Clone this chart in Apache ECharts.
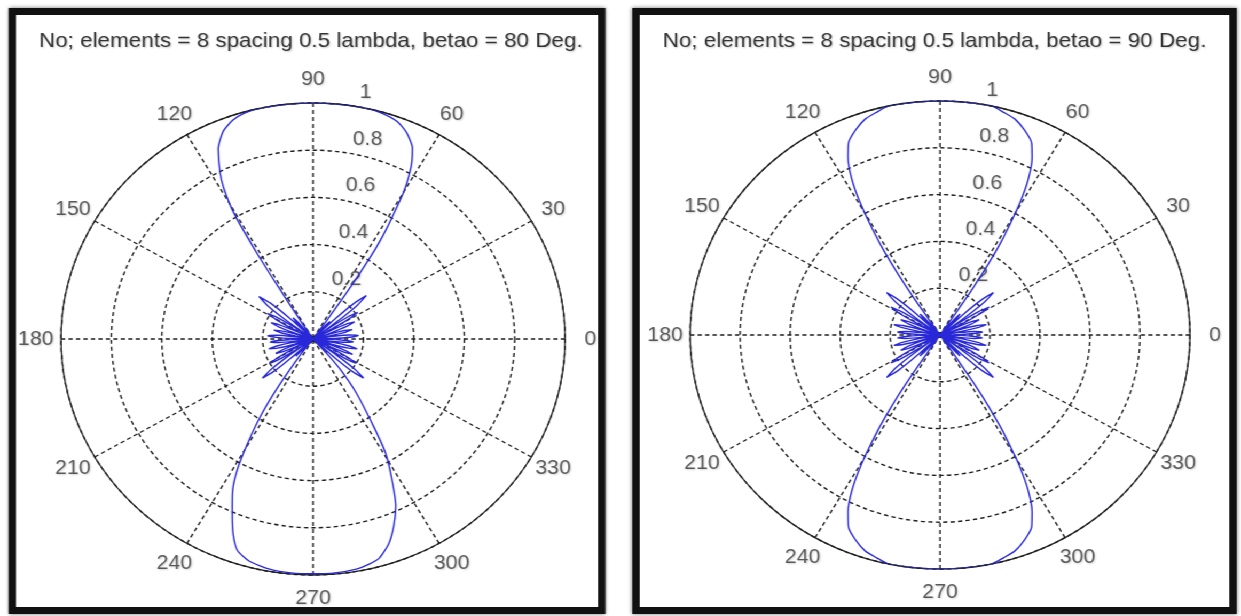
<!DOCTYPE html>
<html>
<head>
<meta charset="utf-8">
<script src="https://cdn.jsdelivr.net/npm/echarts@6.0.0/dist/echarts.min.js"></script>
<style>
  html, body { margin: 0; padding: 0; background: #fff; overflow: hidden; }
  #wrap { position: absolute; left: 0; top: 0; width: 1162px; height: 616px; transform: scaleX(1.068); transform-origin: 0 0; }
  .box { position: absolute; box-sizing: border-box; border: 7px solid #111; background: #fff; box-shadow: 0 0 4px rgba(0,0,0,0.55); }
  .chart { position: absolute; top: 0; height: 616px; }
</style>
</head>
<body>
<div id="wrap">
  <div class="box" style="left:7.5px; top:8px; width:559px; height:606px;"></div>
  <div class="box" style="left:591.8px; top:8px; width:566.4px; height:606px;"></div>
  <div id="c1" class="chart" style="left:0px; width:582.4px;"></div>
  <div id="c2" class="chart" style="left:588px; width:574px;"></div>
</div>
<script>
// ---- data ----
const titles = [
  'No; elements = 8 spacing 0.5 lambda, betao = 80 Deg.',
  'No; elements = 8 spacing 0.5 lambda, betao = 90 Deg.'
];
const angleTicks = [0, 30, 60, 90, 120, 150, 180, 210, 240, 270, 300, 330];
const radiusTicks = [0.2, 0.4, 0.6, 0.8, 1];
const radiusTickText = ['0.2', '0.4', '0.6', '0.8', '1'];

// [angle in degrees, normalised amplitude]  -- betao = 80 deg
const pattern80 = [
  [0,0],
  [1.43,0.081],[2.85,0.146],[4.75,0.18],[6.65,0.146],[8.08,0.081],[9.5,0],
  [10.93,0.072],[12.35,0.13],[14.25,0.16],[16.15,0.13],[17.58,0.072],[19,0],
  [20.43,0.081],[21.85,0.146],[23.75,0.18],[25.65,0.146],[27.08,0.081],[28.5,0],
  [29.7,0.095],[30.9,0.17],[32.5,0.21],[34.1,0.17],[35.3,0.095],[36.5,0],
  [37.85,0.126],[39.2,0.227],[41,0.28],[42.8,0.227],[44.15,0.126],[45.5,0],
  [46.25,0.045],[47,0.081],[48,0.1],[49,0.081],[49.75,0.045],[50.5,0],
  [51.1,0.014],[51.7,0.024],[52.5,0.03],[53.3,0.024],[53.9,0.014],[54.5,0],
  [55.5,0.15],[56,0.28],[57,0.45],[58,0.55],[59,0.63],[60,0.72],[62,0.83],[64,0.9],
  [67,0.95],[70,0.98],[74,0.995],[78,1],[84,1],[90,1],[96,1],[102,1],[106,0.995],
  [109,0.98],[112,0.95],[115,0.89],[117.5,0.8],[119,0.73],[120.5,0.62],[121.5,0.42],
  [122,0.25],[122.7,0.1],[123.5,0],
  [124.18,0.014],[124.85,0.024],[125.75,0.03],[126.65,0.024],[127.33,0.014],[128,0],
  [129.05,0.054],[130.1,0.097],[131.5,0.12],[132.9,0.097],[133.95,0.054],[135,0],
  [136.5,0.126],[138,0.227],[140,0.28],[142,0.227],[143.5,0.126],[145,0],
  [146.2,0.095],[147.4,0.17],[149,0.21],[150.6,0.17],[151.8,0.095],[153,0],
  [154.35,0.081],[155.7,0.146],[157.5,0.18],[159.3,0.146],[160.65,0.081],[162,0],
  [163.35,0.072],[164.7,0.13],[166.5,0.16],[168.3,0.13],[169.65,0.072],[171,0],
  [172.35,0.081],[173.7,0.146],[175.5,0.18],[177.3,0.146],[178.65,0.081],[180,0],
  [181.35,0.077],[182.7,0.138],[184.5,0.17],[186.3,0.138],[187.65,0.077],[189,0],
  [190.35,0.081],[191.7,0.146],[193.5,0.18],[195.3,0.146],[196.65,0.081],[198,0],
  [199.35,0.072],[200.7,0.13],[202.5,0.16],[204.3,0.13],[205.65,0.072],[207,0],
  [208.2,0.09],[209.4,0.162],[211,0.2],[212.6,0.162],[213.8,0.09],[215,0],
  [216.35,0.117],[217.7,0.211],[219.5,0.26],[221.3,0.211],[222.65,0.117],[224,0],
  [224.75,0.045],[225.5,0.081],[226.5,0.1],[227.5,0.081],[228.25,0.045],[229,0],
  [229.45,0.014],[229.9,0.024],[230.5,0.03],[231.1,0.024],[231.55,0.014],[232,0],
  [233,0.06],[234,0.12],[235.8,0.256],[237.5,0.387],[239.8,0.525],[241.8,0.644],[244,0.73],
  [246.5,0.804],[249,0.885],[251.5,0.945],[255,0.975],[260,0.99],[265,0.995],[270,0.995],
  [275,0.995],[280,0.99],[283,0.98],[285.8,0.965],[289,0.92],[292,0.855],[294.9,0.78],
  [297.8,0.67],[300.8,0.562],[303,0.44],[306.9,0.286],[310,0.167],[311.5,0.08],[312.5,0],
  [313.03,0.036],[313.55,0.065],[314.25,0.08],[314.95,0.065],[315.48,0.036],[316,0],
  [317.35,0.117],[318.7,0.211],[320.5,0.26],[322.3,0.211],[323.65,0.117],[325,0],
  [326.2,0.09],[327.4,0.162],[329,0.2],[330.6,0.162],[331.8,0.09],[333,0],
  [334.35,0.077],[335.7,0.138],[337.5,0.17],[339.3,0.138],[340.65,0.077],[342,0],
  [343.35,0.081],[344.7,0.146],[346.5,0.18],[348.3,0.146],[349.65,0.081],[351,0],
  [352.35,0.072],[353.7,0.13],[355.5,0.16],[357.3,0.13],[358.65,0.072],[360,0]
];

// [angle in degrees, normalised amplitude]  -- betao = 90 deg
const pattern90 = [
  [0,0],
  [1.35,0.077],[2.7,0.138],[4.5,0.17],[6.3,0.138],[7.65,0.077],[9,0],
  [10.35,0.086],[11.7,0.154],[13.5,0.19],[15.3,0.154],[16.65,0.086],[18,0],
  [19.35,0.077],[20.7,0.138],[22.5,0.17],[24.3,0.138],[25.65,0.077],[27,0],
  [28.28,0.104],[29.55,0.186],[31.25,0.23],[32.95,0.186],[34.23,0.104],[35.5,0],
  [36.93,0.126],[38.35,0.227],[40.25,0.28],[42.15,0.227],[43.58,0.126],[45,0],
  [45.9,0.054],[46.8,0.097],[48,0.12],[49.2,0.097],[50.1,0.054],[51,0],
  [51.68,0.018],[52.35,0.032],[53.25,0.04],[54.15,0.032],[54.83,0.018],[55.5,0],
  [56.2,0.12],[56.8,0.25],[57.5,0.36],[58.4,0.46],[59.4,0.55],[60.5,0.65],[62,0.75],
  [64,0.84],[66,0.9],[69,0.94],[72,0.97],[75,0.985],[78,1],[84,1],[90,1],[96,1],[102,1],
  [105,0.985],[108,0.97],[111,0.94],[114,0.9],[116,0.84],[118,0.75],[119.5,0.65],
  [120.6,0.55],[121.6,0.46],[122.5,0.36],[123.2,0.25],[123.8,0.12],[124.5,0],
  [125.17,0.018],[125.85,0.032],[126.75,0.04],[127.65,0.032],[128.32,0.018],[129,0],
  [129.9,0.054],[130.8,0.097],[132,0.12],[133.2,0.097],[134.1,0.054],[135,0],
  [136.42,0.126],[137.85,0.227],[139.75,0.28],[141.65,0.227],[143.07,0.126],[144.5,0],
  [145.77,0.104],[147.05,0.186],[148.75,0.23],[150.45,0.186],[151.72,0.104],[153,0],
  [154.35,0.077],[155.7,0.138],[157.5,0.17],[159.3,0.138],[160.65,0.077],[162,0],
  [163.35,0.086],[164.7,0.154],[166.5,0.19],[168.3,0.154],[169.65,0.086],[171,0],
  [172.35,0.077],[173.7,0.138],[175.5,0.17],[177.3,0.138],[178.65,0.077],[180,0],
  [181.35,0.077],[182.7,0.138],[184.5,0.17],[186.3,0.138],[187.65,0.077],[189,0],
  [190.35,0.086],[191.7,0.154],[193.5,0.19],[195.3,0.154],[196.65,0.086],[198,0],
  [199.35,0.077],[200.7,0.138],[202.5,0.17],[204.3,0.138],[205.65,0.077],[207,0],
  [208.28,0.104],[209.55,0.186],[211.25,0.23],[212.95,0.186],[214.23,0.104],[215.5,0],
  [216.93,0.126],[218.35,0.227],[220.25,0.28],[222.15,0.227],[223.58,0.126],[225,0],
  [225.9,0.054],[226.8,0.097],[228,0.12],[229.2,0.097],[230.1,0.054],[231,0],
  [231.68,0.018],[232.35,0.032],[233.25,0.04],[234.15,0.032],[234.83,0.018],[235.5,0],
  [236.2,0.12],[236.8,0.25],[237.5,0.36],[238.4,0.46],[239.4,0.55],[240.5,0.65],[242,0.75],
  [244,0.84],[246,0.9],[249,0.94],[252,0.97],[255,0.985],[258,1],[264,1],[270,1],[276,1],
  [282,1],[285,0.985],[288,0.97],[291,0.94],[294,0.9],[296,0.84],[298,0.75],[299.5,0.65],
  [300.6,0.55],[301.6,0.46],[302.5,0.36],[303.2,0.25],[303.8,0.12],[304.5,0],
  [305.17,0.018],[305.85,0.032],[306.75,0.04],[307.65,0.032],[308.32,0.018],[309,0],
  [309.9,0.054],[310.8,0.097],[312,0.12],[313.2,0.097],[314.1,0.054],[315,0],
  [316.42,0.126],[317.85,0.227],[319.75,0.28],[321.65,0.227],[323.07,0.126],[324.5,0],
  [325.77,0.104],[327.05,0.186],[328.75,0.23],[330.45,0.186],[331.72,0.104],[333,0],
  [334.35,0.077],[335.7,0.138],[337.5,0.17],[339.3,0.138],[340.65,0.077],[342,0],
  [343.35,0.086],[344.7,0.154],[346.5,0.19],[348.3,0.154],[349.65,0.086],[351,0],
  [352.35,0.077],[353.7,0.138],[355.5,0.17],[357.3,0.138],[358.65,0.077],[360,0]
];

// ---- chart building ----
const FONT = '"Liberation Sans", Arial, Helvetica, sans-serif';
const TXT = '#333';
const GRID = '#1e1e1e';
const shadow = { textShadowColor: 'rgba(0,0,0,0.22)', textShadowBlur: 2, textShadowOffsetX: 1, textShadowOffsetY: 1 };

function buildOption(title, pattern, center, radius) {
  return {
    backgroundColor: 'transparent',
    animation: false,
    title: {
      text: title, left: 'center', top: 31, padding: 0,
      textStyle: Object.assign({ fontSize: 21, fontWeight: 'normal', color: TXT, fontFamily: FONT }, shadow)
    },
    polar: { center: center, radius: radius },
    angleAxis: {
      type: 'value', min: 0, max: 360, interval: 30, startAngle: 0, clockwise: false,
      axisLine: { show: true, lineStyle: { color: GRID, width: 1.3 } },
      axisTick: { show: false }, axisLabel: { show: false },
      splitLine: { show: true, lineStyle: { color: GRID, width: 1.4, type: [4, 3] } }
    },
    radiusAxis: {
      type: 'value', min: 0, max: 1, interval: 0.2,
      axisLine: { show: false }, axisTick: { show: false }, axisLabel: { show: false },
      splitLine: { show: true, lineStyle: { color: GRID, width: 1.4, type: [4, 3] } }
    },
    series: [
      {
        type: 'line', coordinateSystem: 'polar', z: 5,
        data: pattern.map(p => [p[1], p[0]]),
        symbol: 'none', showSymbol: false, smooth: 0.2,
        lineStyle: { color: '#2828d8', width: 1.4 }
      },
      {
        type: 'scatter', coordinateSystem: 'polar', clip: false, silent: true,
        symbolSize: 1, itemStyle: { color: 'rgba(0,0,0,0)' },
        data: angleTicks.map(a => [1.1, a]),
        label: Object.assign({
          show: true, position: 'inside', formatter: p => String(p.value[1]),
          color: TXT, fontSize: 20, fontFamily: FONT
        }, shadow)
      },
      {
        type: 'scatter', coordinateSystem: 'polar', clip: false, silent: true,
        symbolSize: 1, itemStyle: { color: 'rgba(0,0,0,0)' },
        data: radiusTicks.map((r, i) => ({ name: radiusTickText[i], value: [r + 0.01, 82] })),
        label: Object.assign({
          show: true, position: [11, 0], align: 'left', verticalAlign: 'bottom',
          formatter: '{b}', color: TXT, fontSize: 20, fontFamily: FONT
        }, shadow)
      }
    ]
  };
}

const chart1 = echarts.init(document.getElementById('c1'), null, { renderer: 'canvas' });
chart1.setOption(buildOption(titles[0], pattern80, [293.1, 339], 236));
const chart2 = echarts.init(document.getElementById('c2'), null, { renderer: 'canvas' });
chart2.setOption(buildOption(titles[1], pattern90, [292.2, 335], 234));
</script>
</body>
</html>
